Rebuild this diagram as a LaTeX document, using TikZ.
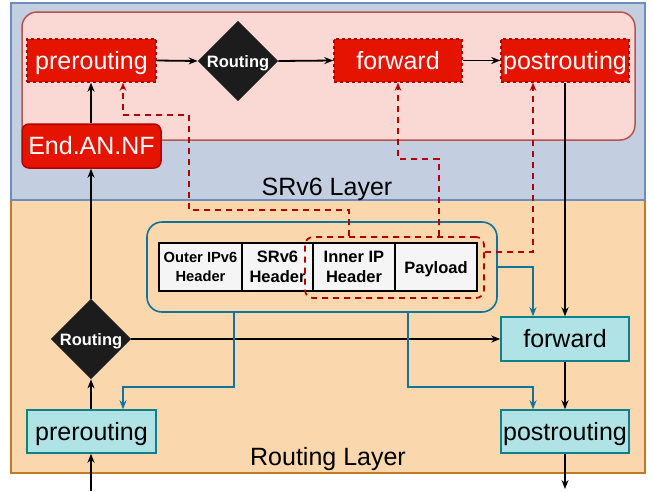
\documentclass[tikz,border=0pt]{standalone}
\usepackage{fontspec}
\setmainfont{Liberation Sans}
\usetikzlibrary{shapes.geometric,arrows.meta}
\definecolor{srbg}{HTML}{C3CFE1}
\definecolor{srbd}{HTML}{6C8EBF}
\definecolor{rtbg}{HTML}{FAD7AC}
\definecolor{rtbd}{HTML}{C07A22}
\definecolor{pkbg}{HTML}{FAD9D5}
\definecolor{pkbd}{HTML}{B85450}
\definecolor{redf}{HTML}{E51400}
\definecolor{redd}{HTML}{B20000}
\definecolor{cyf}{HTML}{B0E3E6}
\definecolor{cyd}{HTML}{0E8088}
\definecolor{blu}{HTML}{10739E}
\definecolor{dk}{HTML}{1C1C1C}
\definecolor{cellf}{HTML}{F5F5F5}
\newcommand{\bigtxt}{\fontsize{25}{30}\selectfont}
\begin{document}
\begin{tikzpicture}[x=1pt,y=-1pt,
  bigt/.style={font=\bigtxt, text height=22pt, text depth=5pt},
  redbox/.style={draw=redd, dashed, line width=1.5pt, fill=redf, text=white, minimum width=128pt, minimum height=43pt, inner sep=0pt, bigt},
  cybox/.style={draw=cyd, line width=1.5pt, fill=cyf, text=black, minimum width=128pt, minimum height=43pt, inner sep=0pt, bigt},
  diam/.style={diamond, fill=dk, minimum width=78pt, minimum height=78pt, inner sep=0pt, text=white, text height=15pt, text depth=3pt, font=\bfseries\fontsize{16.5}{18}\selectfont},
  cell/.style={draw=black, line width=1.5pt, fill=cellf, minimum height=48pt, inner sep=0pt, align=center, font=\bfseries\fontsize{16.5}{19.5}\selectfont},
  arr/.style={line width=1.8pt, -{Stealth[length=9pt,width=7pt]}},
  rarr/.style={draw=redd, line width=1.7pt, dash pattern=on 6pt off 5pt, -{Stealth[length=8pt,width=6.5pt]}},
  barr/.style={draw=blu, line width=1.7pt, -{Stealth[length=9pt,width=7pt]}},
]
\useasboundingbox (0,0) rectangle (651,491);
\fill[white] (0,0) rectangle (651,491);

% layers
\node[draw=rtbd, fill=rtbg, line width=1.5pt, minimum width=634pt, minimum height=273pt, inner sep=0pt] (rtlayer) at (328,336.5) {};
\node[draw=srbd, fill=srbg, line width=1.5pt, minimum width=634pt, minimum height=197pt, inner sep=0pt] (srlayer) at (328,101.5) {};
\node[draw=pkbd, fill=pkbg, line width=1.5pt, rounded corners=15pt, minimum width=613pt, minimum height=128pt, inner sep=0pt] (pink) at (328.5,76) {};

\node[anchor=base, font=\bigtxt] (srlab) at (327,195) {SRv6 Layer};
\node[anchor=base, font=\bigtxt] (rtlab) at (328,465) {Routing Layer};

% packet
\node[draw=blu, line width=1.6pt, rounded corners=15pt, minimum width=350pt, minimum height=90pt, inner sep=0pt] (pkt) at (322,267) {};
\node[cell, minimum width=83pt, font=\bfseries\fontsize{14.7}{19}\selectfont] (c1) at (200.5,267) {Outer IPv6\\Header};
\node[cell, minimum width=71pt] (c2) at (277.5,267) {SRv6\\Header};
\node[cell, minimum width=82pt] (c3) at (354,267) {Inner IP\\Header};
\node[cell, minimum width=82pt, text height=15pt, text depth=3pt] (c4) at (436,267) {Payload};
\node[draw=redd, line width=1.7pt, dash pattern=on 6pt off 5pt, rounded corners=8pt, minimum width=179pt, minimum height=61pt, inner sep=0pt] (inner) at (394.5,267.5) {};

% SRv6 layer nodes
\node[redbox, minimum width=129pt] (pre1) at (91.5,60.5) {prerouting};
\node[diam] (rt1) at (238,61) {Routing};
\node[redbox] (fwd1) at (398,60.5) {forward};
\node[redbox] (post1) at (565,60.5) {postrouting};
\node[draw=redd, line width=1.5pt, fill=redf, text=white, rounded corners=7pt, minimum width=139pt, minimum height=44pt, inner sep=0pt, bigt] (end) at (91.5,146) {End.AN.NF};

% Routing layer nodes
\node[diam] (rt2) at (91,339) {Routing};
\node[cybox, minimum width=129pt] (pre2) at (91.5,431.5) {prerouting};
\node[cybox, minimum height=44pt] (fwd2) at (565,339) {forward};
\node[cybox] (post2) at (565,431.5) {postrouting};

\coordinate (inp) at (91,491);
\coordinate (outp) at (565,489);

% black flow
\draw[arr] (pre1.east) -- (rt1.west);
\draw[arr] (rt1.east) -- (fwd1.west);
\draw[arr] (fwd1.east) -- (post1.west);
\draw[arr] (end.north -| 91,0) -- (pre1.south -| 91,0);
\draw[arr] (rt2.north) -- (end.south -| 91,0);
\draw[arr] (pre2.north -| 91,0) -- (rt2.south);
\draw[arr] (inp) -- (pre2.south -| 91,0);
\draw[arr] (rt2.east) -- (fwd2.west);
\draw[arr] (post1.south) -- (fwd2.north);
\draw[arr] (fwd2.south) -- (post2.north);
\draw[arr] (post2.south) -- (outp);

% red dashed
\draw[rarr] (inner.north -| 349,0) -- (349,210) -- (189,210) -- (189,115) -- (123,115) -- (pre1.south -| 123,0);
\draw[rarr] (inner.north -| 439,0) -- (439,159) -- (398,159) -- (fwd1.south);
\draw[rarr] (inner.east |- 0,252) -- (533,252) -- (post1.south -| 533,0);

% blue
\draw[barr] (pkt.south -| 234,0) -- (234,387) -- (123,387) -- (pre2.north -| 123,0);
\draw[barr] (pkt.south -| 408,0) -- (408,387) -- (533,387) -- (post2.north -| 533,0);
\draw[barr] (pkt.east |- 0,267) -- (533,267) -- (fwd2.north -| 533,0);
\end{tikzpicture}
\end{document}
